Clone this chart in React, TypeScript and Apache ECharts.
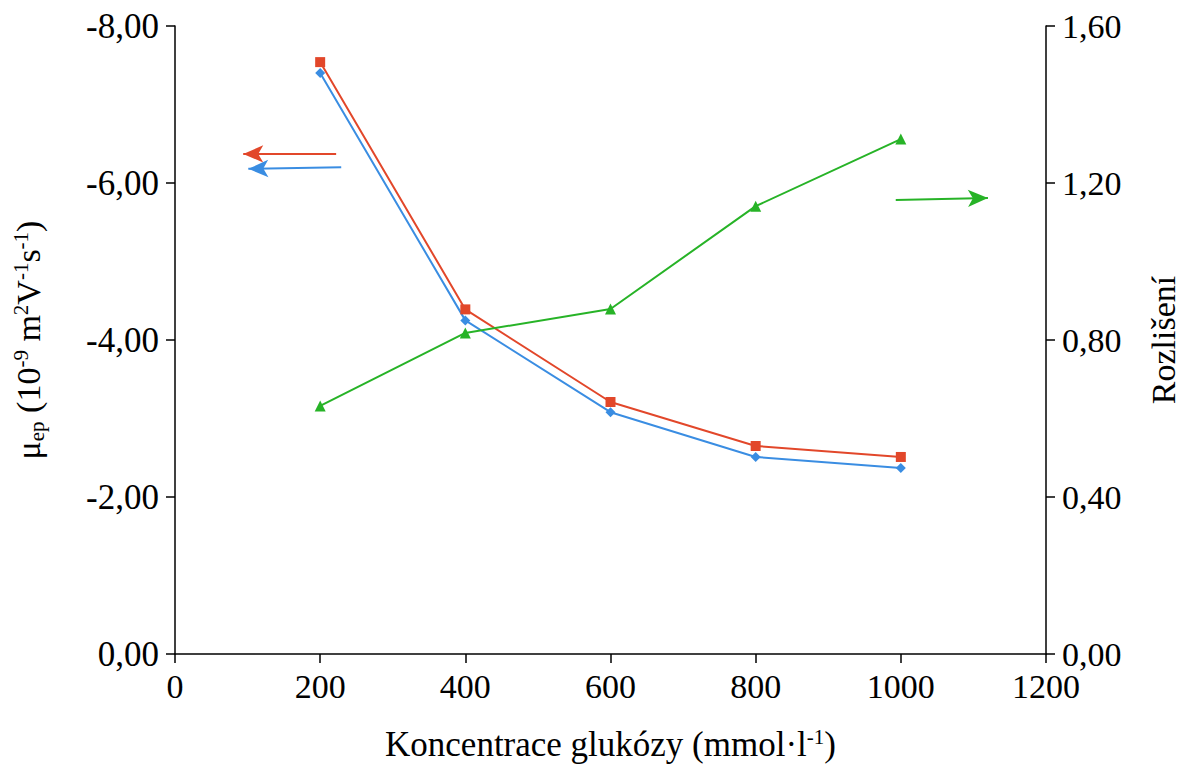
import React, { useEffect, useRef } from "react";
import * as echarts from "echarts";

const xCategories = [200, 400, 600, 800, 1000];
const redMobility = [-7.54, -4.39, -3.21, -2.65, -2.51];
const blueMobility = [-7.4, -4.25, -3.08, -2.51, -2.37];
const greenResolution = [0.632, 0.818, 0.879, 1.141, 1.312];

const redArrow = [[222, -6.37], [94, -6.37]];
const blueArrow = [[229, -6.2], [101, -6.18]];
const greenArrow = [[993, 1.157], [1120, 1.162]];

const RED = "#e2472a";
const BLUE = "#3a8de2";
const GREEN = "#27b327";
const FONT = "Liberation Serif";

const fmt = (v: number) => v.toFixed(2).replace(".", ",");

function arrowLine(color: string, pts: number[][]) {
  return {
    silent: true,
    symbol: ["none", "arrow"],
    symbolSize: [13, 20],
    label: { show: false },
    lineStyle: { color, width: 2, type: "solid" },
    data: [[{ coord: pts[0] }, { coord: pts[1] }]],
  };
}

export default function App() {
  const ref = useRef<HTMLDivElement>(null);
  useEffect(() => {
    if (!ref.current) return;
    const chart = echarts.init(ref.current, null, { renderer: "svg" });
    const axisLine = { show: true, lineStyle: { color: "#000", width: 1.5 } };
    const axisTick = { show: true, inside: false, length: 9, lineStyle: { color: "#000", width: 1.5 } };
    const axisLabelBase = { color: "#000", fontFamily: FONT, fontSize: 34 };
    const supStyle = { fontFamily: FONT, fontSize: 21, color: "#000", verticalAlign: "top", padding: [0, 0, 16, 0] };
    const subStyle = { fontFamily: FONT, fontSize: 21, color: "#000", verticalAlign: "bottom", padding: [12, 0, 0, 0] };
    chart.setOption({
      animation: false,
      textStyle: { fontFamily: FONT },
      grid: { left: 175, right: 145, top: 26, bottom: 111, containLabel: false, outerBoundsMode: "none" },
      xAxis: {
        type: "value",
        min: 0,
        max: 1200,
        interval: 200,
        axisLine,
        axisTick,
        splitLine: { show: false },
        axisLabel: { ...axisLabelBase, margin: 15, formatter: (v: number) => String(v) },
        name: "Koncentrace glukózy (mmol·l{sup|-1})",
        nameLocation: "middle",
        nameGap: 72,
        nameTextStyle: {
          fontFamily: FONT,
          fontSize: 35,
          color: "#000",
          rich: { sup: { ...supStyle, fontSize: 21 } },
        },
      },
      yAxis: [
        {
          type: "value",
          min: -8,
          max: 0,
          interval: 2,
          inverse: true,
          position: "left",
          axisLine,
          axisTick,
          splitLine: { show: false },
          axisLabel: { ...axisLabelBase, fontSize: 35, margin: 16, formatter: (v: number) => fmt(v) },
          name: "μ{sub|ep} (10{sup|-9} m{sup|2}V{sup|-1}s{sup|-1})",
          nameLocation: "middle",
          nameRotate: 90,
          nameGap: 128,
          nameTextStyle: {
            fontFamily: FONT,
            fontSize: 34,
            color: "#000",
            rich: { sup: supStyle, sub: subStyle },
          },
        },
        {
          type: "value",
          min: 0,
          max: 1.6,
          interval: 0.4,
          position: "right",
          axisLine,
          axisTick,
          splitLine: { show: false },
          axisLabel: { ...axisLabelBase, margin: 16, formatter: (v: number) => fmt(v) },
          name: "Rozlišení",
          nameLocation: "middle",
          nameRotate: 90,
          nameGap: 100,
          nameTextStyle: { fontFamily: FONT, fontSize: 34, color: "#000" },
        },
      ],
      series: [
        {
          type: "line",
          yAxisIndex: 0,
          data: xCategories.map((x, i) => [x, redMobility[i]]),
          symbol: "rect",
          symbolSize: 10,
          lineStyle: { color: RED, width: 2 },
          itemStyle: { color: RED },
          markLine: arrowLine(RED, redArrow),
        },
        {
          type: "line",
          yAxisIndex: 0,
          data: xCategories.map((x, i) => [x, blueMobility[i]]),
          symbol: "diamond",
          symbolSize: 10,
          lineStyle: { color: BLUE, width: 2 },
          itemStyle: { color: BLUE },
          markLine: arrowLine(BLUE, blueArrow),
        },
        {
          type: "line",
          yAxisIndex: 1,
          data: xCategories.map((x, i) => [x, greenResolution[i]]),
          symbol: "triangle",
          symbolSize: 11,
          lineStyle: { color: GREEN, width: 2 },
          itemStyle: { color: GREEN },
          markLine: arrowLine(GREEN, greenArrow),
        },
      ],
    });
    return () => chart.dispose();
  }, []);
  return <div ref={ref} style={{ width: 1191, height: 765, position: "absolute", left: 0, top: 0 }} />;
}
